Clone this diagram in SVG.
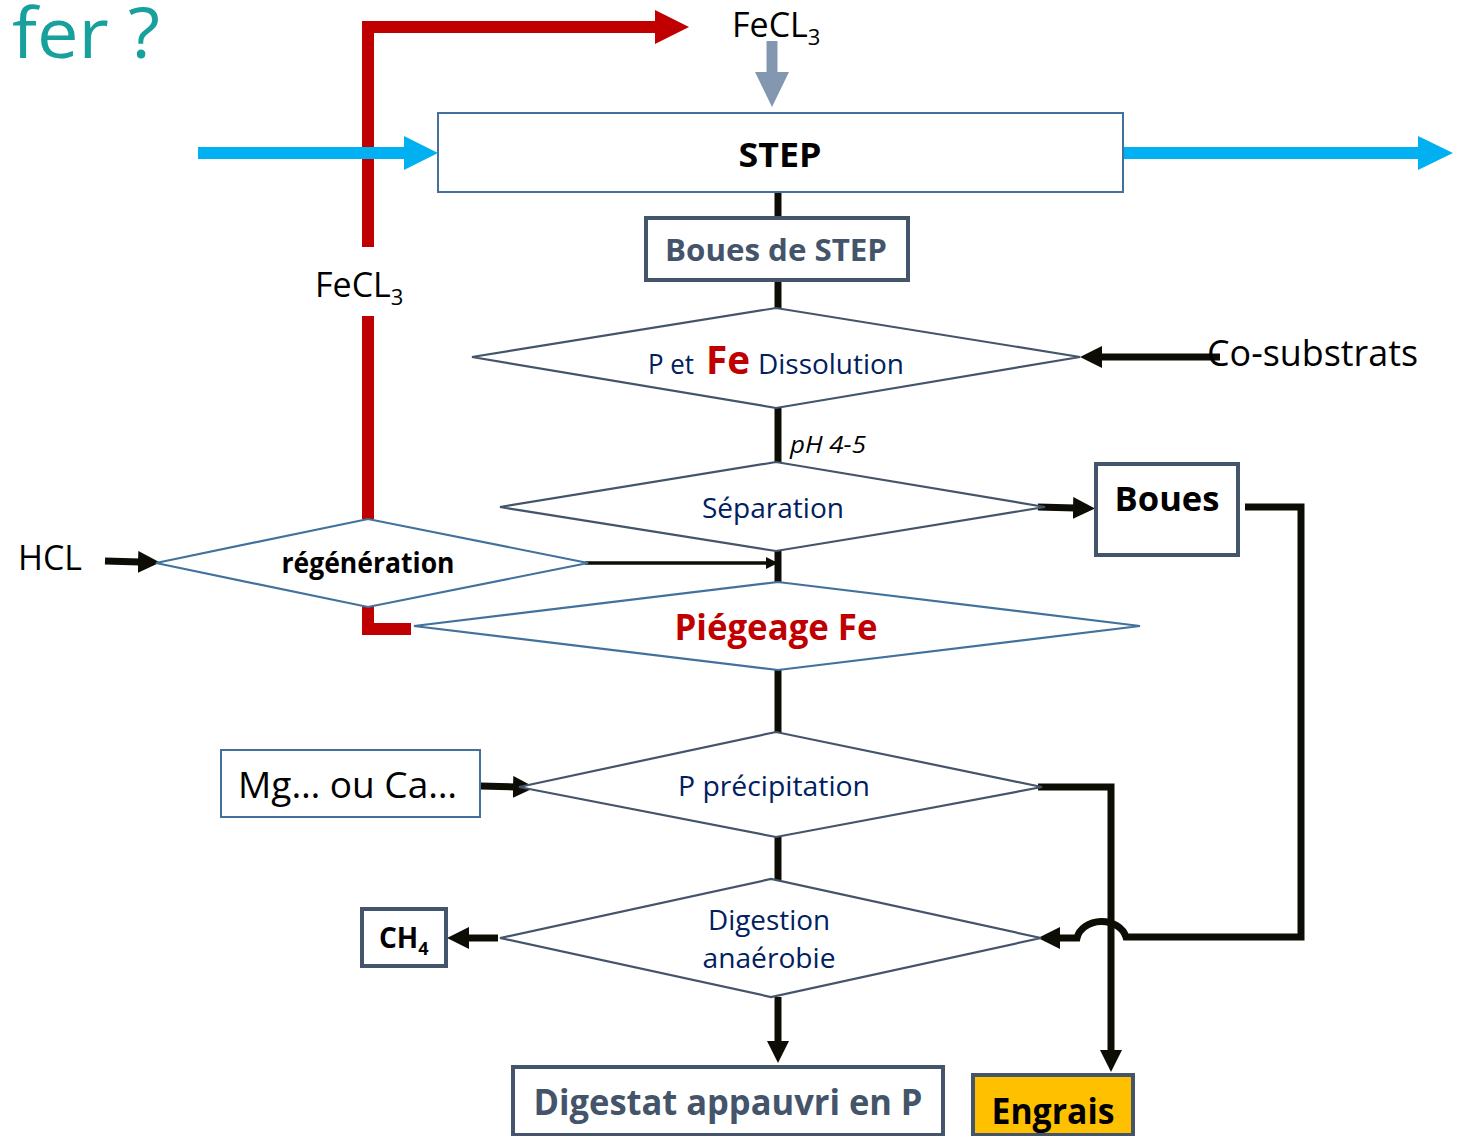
<svg xmlns="http://www.w3.org/2000/svg" width="1463" height="1136" viewBox="0 0 1463 1136">
<style>
text{font-family:"Open Sans","Noto Sans","DejaVu Sans",sans-serif}
.bk{fill:#000}
.nv{fill:#002060}
.sl{fill:#44546a}
.b{font-weight:bold}
.dm{fill:#fff;stroke:#44546a;stroke-width:2.2}
.dmb{fill:#fff;stroke:#41719c;stroke-width:2.2}
.bx{fill:#fff;stroke:#44546a;stroke-width:4}
.bxt{fill:#fff;stroke:#41719c;stroke-width:2}
.c{fill:none;stroke:#0d0d06;stroke-width:7}
.ct{fill:none;stroke:#0d0d06;stroke-width:3.5}
</style>
<defs>
<marker id="ah" markerUnits="userSpaceOnUse" markerWidth="24" markerHeight="24" refX="2" refY="11" orient="auto"><path d="M0,0 L22,11 L0,22 z" fill="#0d0d06"/></marker>
<marker id="ahs" markerUnits="userSpaceOnUse" markerWidth="14" markerHeight="14" refX="2" refY="6" orient="auto"><path d="M0,0 L12,6 L0,12 z" fill="#0d0d06"/></marker>
</defs>
<rect width="1463" height="1136" fill="#fff"/>

<text x="12" y="58" font-size="70" fill="#17a09c" textLength="148" lengthAdjust="spacingAndGlyphs">fer ?</text>

<g id="flows">
<path d="M368,247 V27 H656" fill="none" stroke="#c00000" stroke-width="12"/>
<polygon points="655,10 689,27 655,44" fill="#c00000"/>
<path d="M368,316 V519" fill="none" stroke="#c00000" stroke-width="12"/>
<path d="M368,607 V629 H411" fill="none" stroke="#c00000" stroke-width="12"/>
<line x1="198" y1="153" x2="405" y2="153" stroke="#00b0f0" stroke-width="12"/>
<polygon points="404,136 438,153 404,170" fill="#00b0f0"/>
<line x1="1123" y1="153" x2="1419" y2="153" stroke="#00b0f0" stroke-width="12"/>
<polygon points="1418,136 1453,153 1418,170" fill="#00b0f0"/>
<line x1="772" y1="41" x2="772" y2="73" stroke="#8497b0" stroke-width="11"/>
<polygon points="755,72 789,72 772,107" fill="#8497b0"/>
</g>

<g id="connectors">
<line class="c" x1="778" y1="192" x2="778" y2="217"/>
<line class="c" x1="778" y1="281" x2="778" y2="308"/>
<line class="c" x1="778" y1="408" x2="778" y2="462"/>
<line class="c" x1="778" y1="551" x2="778" y2="582"/>
<line class="c" x1="778" y1="670" x2="778" y2="733"/>
<line class="c" x1="778" y1="837" x2="778" y2="880"/>
<line class="c" x1="1220" y1="357" x2="1100" y2="357" marker-end="url(#ah)"/>
<line class="c" x1="1038" y1="507" x2="1075" y2="508" marker-end="url(#ah)"/>
<line class="ct" x1="585" y1="563" x2="768" y2="563" marker-end="url(#ahs)"/>
<line class="c" x1="105" y1="561" x2="140" y2="562" marker-end="url(#ah)"/>
<line class="c" x1="480" y1="786" x2="515" y2="787" marker-end="url(#ah)"/>
<line class="c" x1="498" y1="938" x2="467" y2="938" marker-end="url(#ah)"/>
<line class="c" x1="778" y1="997" x2="778" y2="1043" marker-end="url(#ah)"/>
<path class="c" d="M1038,787 H1111 V1052" marker-end="url(#ah)"/>
<path class="c" d="M1245,507 H1301 V937 H1126 A25,20 0 0 0 1077,938 H1058" marker-end="url(#ah)"/>
</g>

<g id="fecl3-top">
<text x="732" y="37" font-size="34" class="bk">FeCL<tspan font-size="22" dy="8">3</tspan></text>
</g>
<g id="fecl3-left">
<text x="315" y="297" font-size="34" class="bk">FeCL<tspan font-size="22" dy="8">3</tspan></text>
</g>

<g id="step">
<rect x="438" y="113" width="685" height="79" class="bxt"/>
<text x="780" y="167" font-size="34" class="bk b" text-anchor="middle" textLength="83" lengthAdjust="spacingAndGlyphs">STEP</text>
</g>

<g id="boues-step">
<rect x="646" y="218" width="262" height="62" class="bx"/>
<text x="776" y="261" font-size="31" class="sl b" text-anchor="middle" textLength="222" lengthAdjust="spacingAndGlyphs">Boues de STEP</text>
</g>

<g id="dissolution">
<polygon points="472,357 776,308 1080,357 776,408" class="dm"/>
<text x="648" y="374" font-size="27" class="nv" textLength="46" lengthAdjust="spacingAndGlyphs">P et</text>
<text x="706" y="374" font-size="40" class="b" fill="#c00000" textLength="44" lengthAdjust="spacingAndGlyphs">Fe</text>
<text x="758" y="374" font-size="27" class="nv" textLength="146" lengthAdjust="spacingAndGlyphs">Dissolution</text>
</g>

<g id="cosubstrats">
<text x="1207" y="366" font-size="36" class="bk" textLength="211" lengthAdjust="spacingAndGlyphs">Co-substrats</text>
</g>

<text x="790" y="453" font-size="23" font-style="italic" class="bk" textLength="76" lengthAdjust="spacingAndGlyphs">pH 4-5</text>

<g id="separation">
<polygon points="500,507 776,462 1045,507 776,551" class="dm"/>
<text x="773" y="518" font-size="28" class="nv" text-anchor="middle" textLength="142" lengthAdjust="spacingAndGlyphs">Séparation</text>
</g>

<g id="boues">
<rect x="1096" y="464" width="142" height="91" class="bx"/>
<text x="1167" y="511" font-size="34" class="bk b" text-anchor="middle" textLength="105" lengthAdjust="spacingAndGlyphs">Boues</text>
</g>

<g id="hcl">
<text x="18" y="570" font-size="34" class="bk" textLength="64" lengthAdjust="spacingAndGlyphs">HCL</text>
</g>

<g id="regeneration">
<polygon points="156,563 368,519 588,563 368,607" class="dmb"/>
<text x="368" y="573" font-size="28" class="bk b" text-anchor="middle" textLength="173" lengthAdjust="spacingAndGlyphs">régénération</text>
</g>

<g id="piegeage">
<polygon points="414,626 778,582 1140,626 778,670" class="dmb"/>
<text x="776" y="640" font-size="36" class="b" fill="#c00000" text-anchor="middle" textLength="203" lengthAdjust="spacingAndGlyphs">Piégeage Fe</text>
</g>

<g id="mg-ca">
<rect x="221" y="750" width="259" height="67" class="bxt"/>
<text x="238" y="798" font-size="36" class="bk" textLength="219" lengthAdjust="spacingAndGlyphs">Mg… ou Ca…</text>
</g>

<g id="precipitation">
<polygon points="519,787 776,732 1042,787 776,837" class="dm"/>
<text x="774" y="796" font-size="28" class="nv" text-anchor="middle" textLength="192" lengthAdjust="spacingAndGlyphs">P précipitation</text>
</g>

<g id="digestion">
<polygon points="500,938 771,879 1041,938 771,997" class="dm"/>
<text x="769" y="930" font-size="28" class="nv" text-anchor="middle" textLength="122" lengthAdjust="spacingAndGlyphs">Digestion</text>
<text x="769" y="968" font-size="28" class="nv" text-anchor="middle" textLength="133" lengthAdjust="spacingAndGlyphs">anaérobie</text>
</g>

<g id="ch4">
<rect x="362" y="909" width="84" height="57" class="bx"/>
<text x="379" y="948" font-size="28" class="bk b">CH<tspan font-size="18" dy="7">4</tspan></text>
</g>

<g id="digestat">
<rect x="513" y="1067" width="430" height="68" class="bx"/>
<text x="728" y="1115" font-size="36" class="sl b" text-anchor="middle" textLength="389" lengthAdjust="spacingAndGlyphs">Digestat appauvri en P</text>
</g>

<g id="engrais">
<rect x="973" y="1075" width="160" height="60" fill="#ffc000" stroke="#44546a" stroke-width="4"/>
<text x="1053" y="1124" font-size="36" class="bk b" text-anchor="middle" textLength="123" lengthAdjust="spacingAndGlyphs">Engrais</text>
</g>
</svg>
